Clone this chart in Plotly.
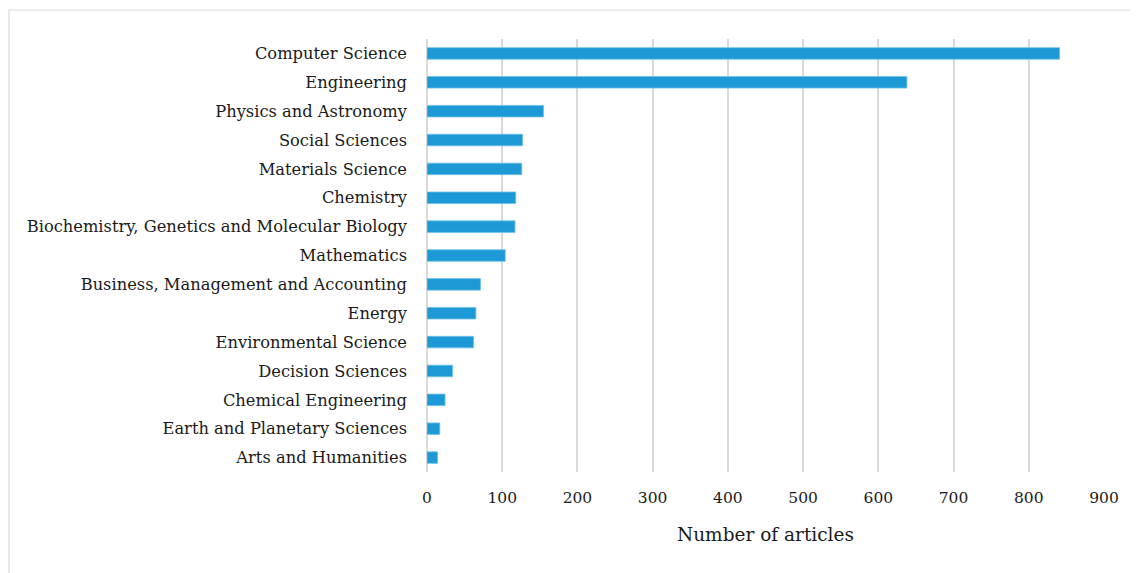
import plotly.graph_objects as go

categories = [
    "Computer Science", "Engineering", "Physics and Astronomy", "Social Sciences",
    "Materials Science", "Chemistry", "Biochemistry, Genetics and Molecular Biology",
    "Mathematics", "Business, Management and Accounting", "Energy",
    "Environmental Science", "Decision Sciences", "Chemical Engineering",
    "Earth and Planetary Sciences", "Arts and Humanities",
]
values = [841, 638, 155, 127, 126, 118, 117, 104, 71, 65, 62, 34, 24, 17, 14]
x_ticks = [0, 100, 200, 300, 400, 500, 600, 700, 800, 900]

FONT = "DejaVu Serif"
W, H = 1130, 565
L, R, T, B = 419, 34, 31, 101

fig = go.Figure(go.Bar(
    x=values, y=categories, orientation="h",
    width=0.4,
    marker=dict(color="#1D9AD6", line=dict(color="#6EC0EA", width=0.8)),
))

pw = W - L - R
ph = H - T - B
fig.add_shape(type="rect", xref="paper", yref="paper",
              x0=(1 - L) / pw, x1=1.2, y0=-0.5, y1=1 + (T - 2) / ph,
              line=dict(color="#D9D9D9", width=1.2), fillcolor="rgba(0,0,0,0)", layer="below")

fig.update_layout(
    width=W, height=H,
    margin=dict(l=L, r=R, t=T, b=B),
    paper_bgcolor="white", plot_bgcolor="white",
    showlegend=False,
    font=dict(family=FONT, color="#1A1A1A"),
    xaxis=dict(range=[0, 900], tickvals=x_ticks, showgrid=True, gridcolor="#D9D9D9", gridwidth=1.5,
               zeroline=True, zerolinecolor="#D9D9D9", zerolinewidth=1.5,
               tickfont=dict(size=15.5, family=FONT), ticklabelstandoff=14,
               title=dict(text="Number of articles", font=dict(size=18.5, family=FONT), standoff=22)),
    yaxis=dict(autorange="reversed", showgrid=False, tickfont=dict(size=16.3, family=FONT),
               ticklabelstandoff=19),
)

fig.write_html("out.html")
